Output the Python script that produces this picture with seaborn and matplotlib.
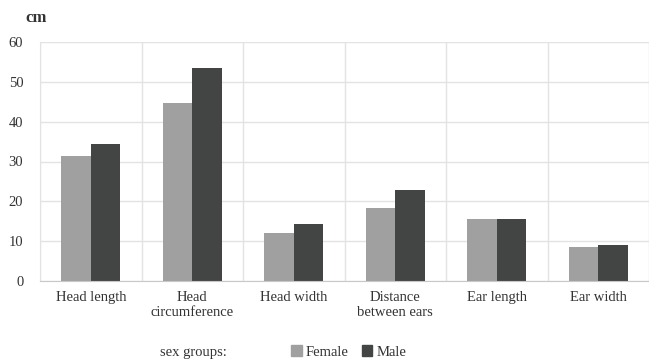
import pandas as pd
import seaborn as sns
import matplotlib.pyplot as plt
from matplotlib.patches import Patch

# values (cm)
categories = ['Head length', 'Head\ncircumference', 'Head width',
              'Distance\nbetween ears', 'Ear length', 'Ear width']
female = [31.4, 44.7, 12.1, 18.3, 15.6, 8.5]
male = [34.4, 53.5, 14.3, 22.9, 15.6, 9.0]
groups = ['Female', 'Male']
colors = ['#a0a0a0', '#434545']

df = pd.DataFrame({
    'part': categories * 2,
    'value': female + male,
    'sex': ['Female'] * len(categories) + ['Male'] * len(categories),
})

sns.set_style('white')
plt.rcParams['font.family'] = ['Liberation Serif', 'DejaVu Serif']

fig = plt.figure(figsize=(6.49, 3.6), dpi=100)
ax = fig.add_axes([40 / 649, 1 - 281 / 360, 609 / 649, 239 / 360])

sns.barplot(data=df, x='part', y='value', hue='sex', hue_order=groups,
            palette=colors, width=0.58, saturation=1, linewidth=0,
            ax=ax, legend=False)

ax.set_xlim(-0.5, 5.5)
ax.set_ylim(0, 60)
ax.set_yticks(range(0, 61, 10))
ax.set_xticks([i + 0.5 for i in range(-1, 6)], minor=True)
ax.grid(True, axis='y', color='#e3e3e3', lw=1)
ax.grid(True, axis='x', which='minor', color='#e3e3e3', lw=1)
ax.set_axisbelow(True)
ax.tick_params(axis='both', which='both', length=0, labelsize=10.5,
               colors='#333333')
ax.tick_params(axis='x', pad=7)
ax.tick_params(axis='y', pad=12)
ax.set_xlabel('')
ax.set_ylabel('')
for s in ['top', 'right']:
    ax.spines[s].set_visible(False)
ax.spines['left'].set_color('#e3e3e3')
ax.spines['bottom'].set_color('#c8c8c8')

fig.text(25 / 649, 1 - 18 / 360, 'cm', fontsize=12, fontweight='bold',
         color='#333333', va='center', ha='left')

fig.text(160 / 649, 1 - 359 / 360, 'sex groups:', fontsize=10.5,
         color='#333333', va='bottom', ha='left')
handles = [Patch(color=c, label=g) for c, g in zip(colors, groups)]
fig.legend(handles=handles, loc='center left',
           bbox_to_anchor=(284 / 649, 1 - 352 / 360), ncol=2, frameon=False,
           fontsize=10.5, handlelength=0.7, handleheight=0.7,
           handletextpad=0.3, columnspacing=0.9, borderpad=0,
           labelcolor='#333333')

fig.savefig('out.png', dpi=100)
